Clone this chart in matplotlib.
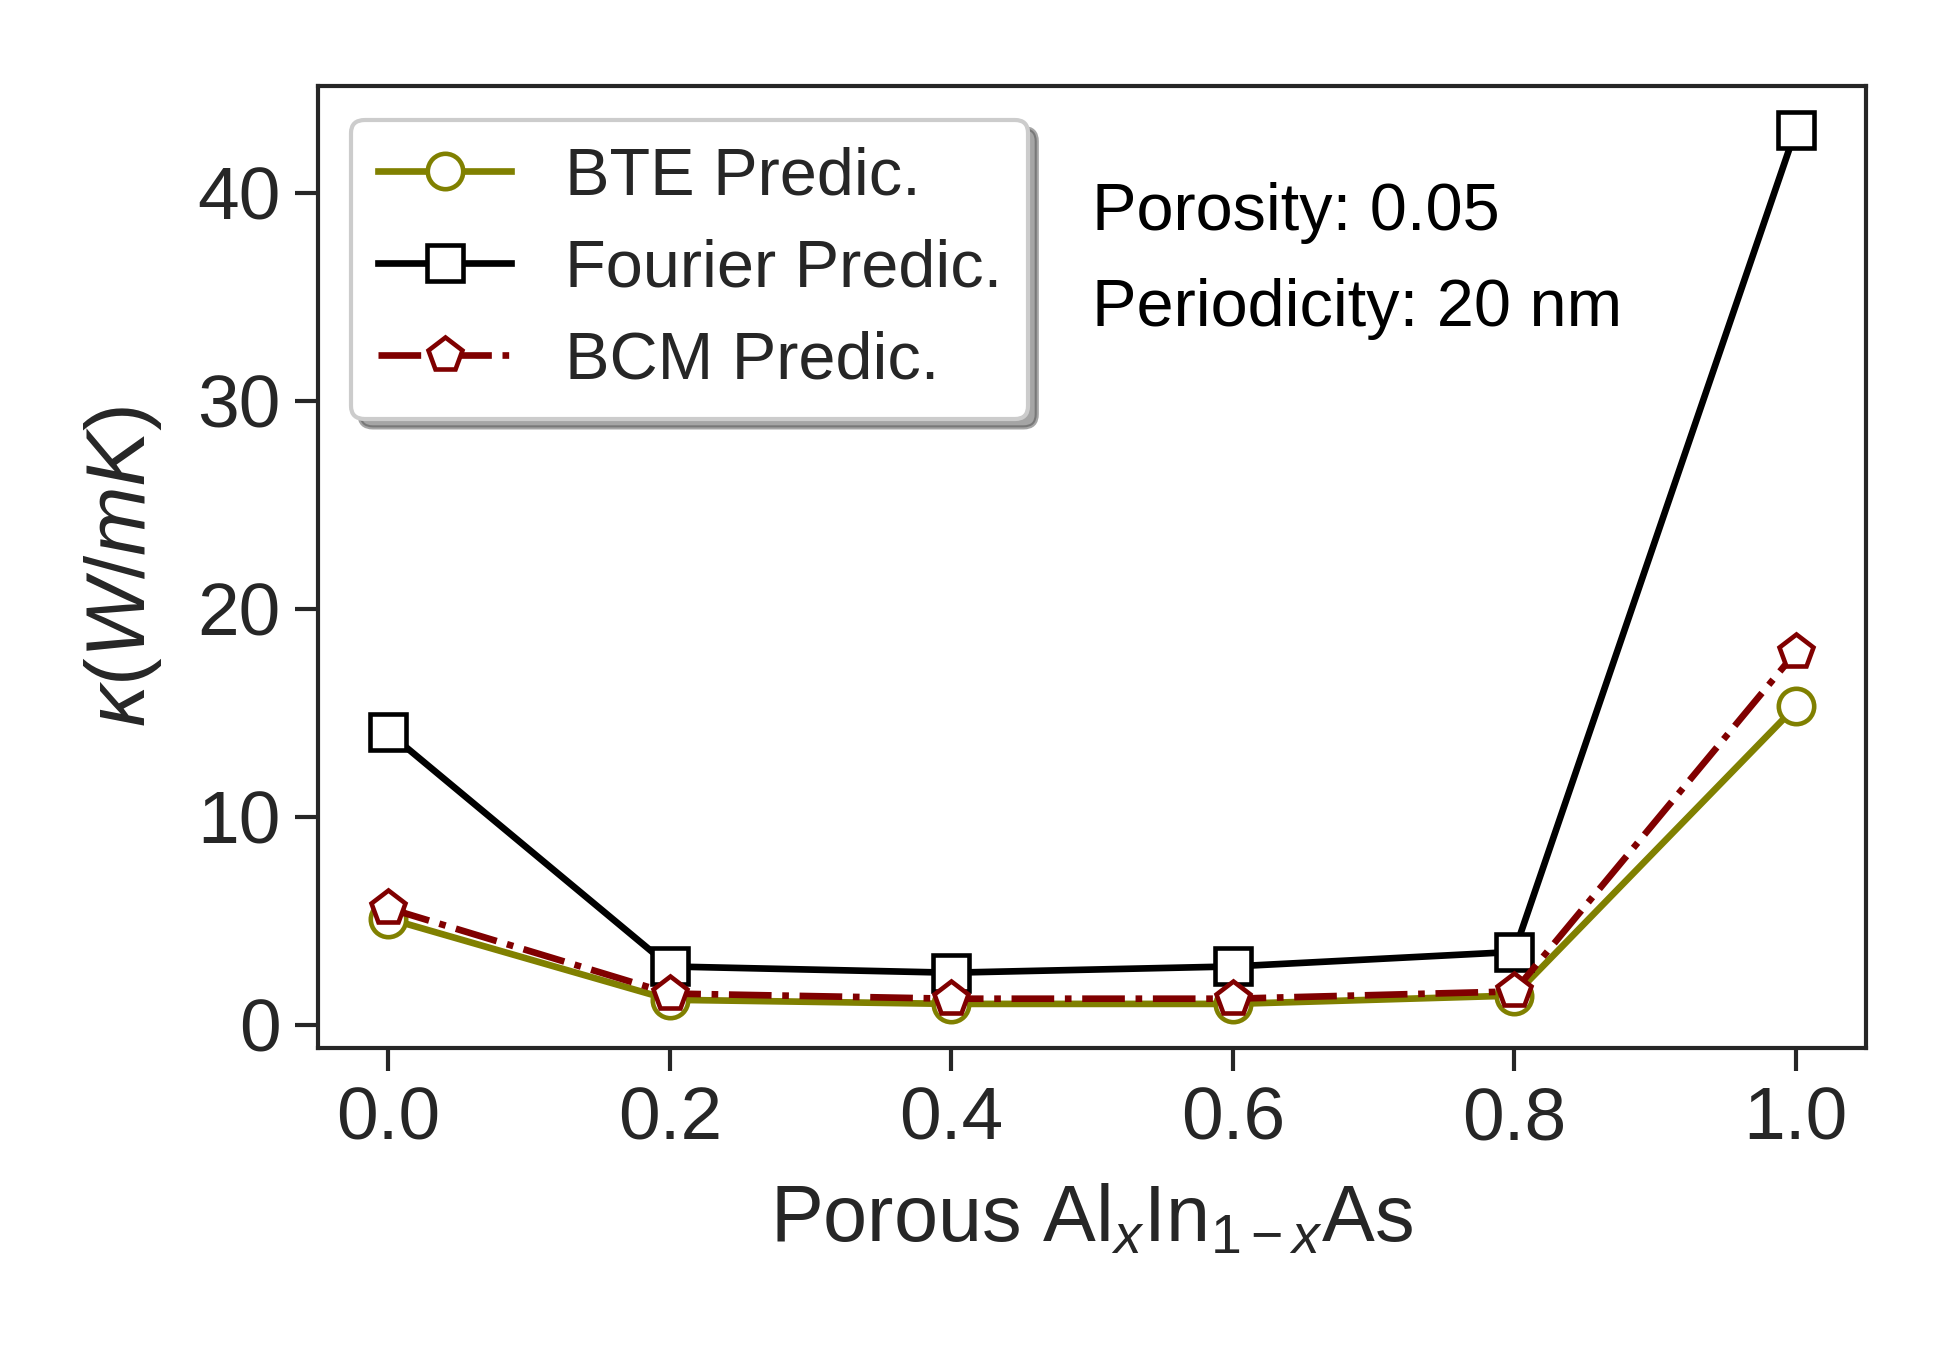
import matplotlib
matplotlib.use("Agg")
import matplotlib.pyplot as plt

x = [0.0, 0.2, 0.4, 0.6, 0.8, 1.0]
bte = [5.1, 1.2, 1.0, 1.0, 1.4, 15.3]
fourier = [14.05, 2.8, 2.5, 2.8, 3.5, 43.0]
bcm = [5.6, 1.5, 1.25, 1.25, 1.6, 17.9]

plt.rcParams['font.family'] = ['Liberation Sans', 'DejaVu Sans']
plt.rcParams['mathtext.fontset'] = 'custom'
plt.rcParams['mathtext.rm'] = 'Liberation Sans'
plt.rcParams['mathtext.it'] = 'Liberation Sans:italic'
plt.rcParams['mathtext.bf'] = 'Liberation Sans:bold'

dark = '#262626'
fig = plt.figure(figsize=(6.5, 4.5), dpi=300)
ax = fig.add_axes([0.163, 0.224, 0.794, 0.712])

ax.plot(x, bte, color='olive', marker='o', markersize=8.5, markerfacecolor='white',
        markeredgewidth=1.1, lw=1.6, label='BTE Predic.')
ax.plot(x, fourier, color='black', marker='s', markersize=8.5, markerfacecolor='white',
        markeredgewidth=1.1, lw=1.6, label='Fourier Predic.')
ax.plot(x, bcm, color='maroon', marker='p', markersize=8.5, markerfacecolor='white',
        markeredgewidth=1.1, lw=1.6, ls='-.', label='BCM Predic.')

for s in ax.spines.values():
    s.set_color(dark)
    s.set_linewidth(1.0)
ax.tick_params(axis='both', labelsize=18, colors=dark, length=5.5, width=1.0)
ax.set_xticks(x)
ax.set_yticks([0, 10, 20, 30, 40])

ax.set_xlabel(r'Porous Al$_x$In$_{1-x}$As', fontsize=19, color=dark, labelpad=7)
ax.set_ylabel(r'$\kappa (W/mK)$', fontsize=20, color=dark, labelpad=8)

leg = ax.legend(loc='upper left', fontsize=16, frameon=True, fancybox=True, shadow=True,
                labelspacing=0.45)
for t in leg.get_texts():
    t.set_color(dark)

ax.text(0.50, 0.868, 'Porosity: 0.05', transform=ax.transAxes, fontsize=16,
        color='black', va='center', ha='left')
ax.text(0.50, 0.768, 'Periodicity: 20 nm', transform=ax.transAxes, fontsize=16,
        color='black', va='center', ha='left')

fig.savefig('out.png', dpi=300)
